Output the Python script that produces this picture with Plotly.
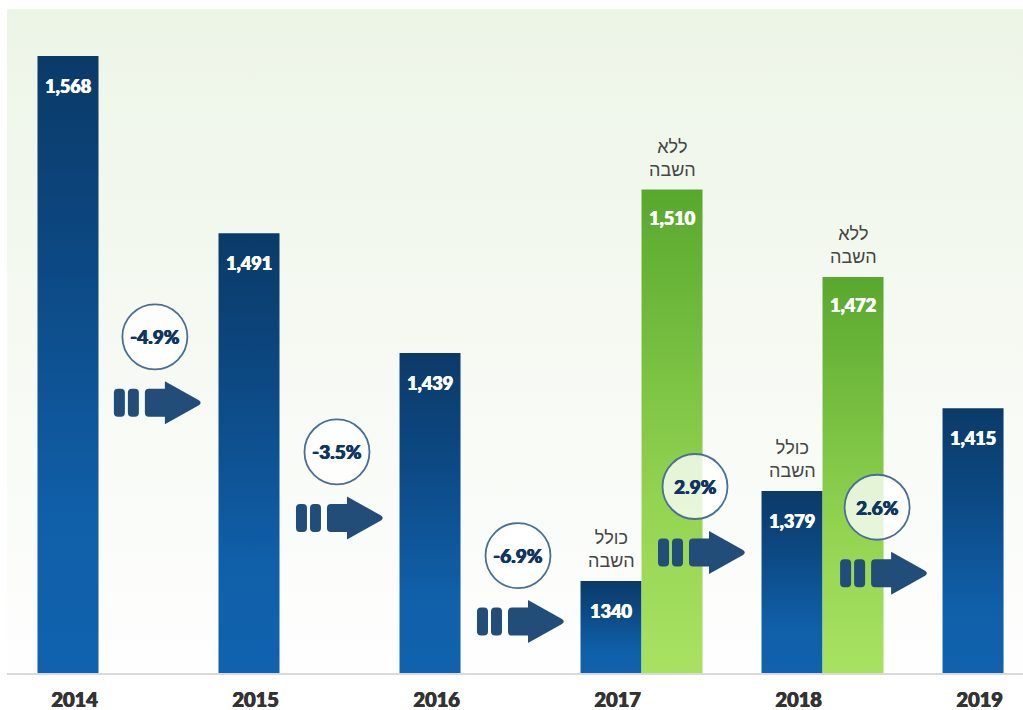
import plotly.graph_objects as go

# ---------------- data ----------------
years = ["2014", "2015", "2016", "2017", "2018", "2019"]
total_values = [1568, 1491, 1439, 1340, 1379, 1415]          # blue bars (כולל השבה)
total_labels = ["1,568", "1,491", "1,439", "1340", "1,379", "1,415"]
excl_years = ["2017", "2018"]                                 # green bars (ללא השבה)
excl_values = [1510, 1472]
excl_labels = ["1,510", "1,472"]
changes = ["-4.9%", "-3.5%", "-6.9%", "2.9%", "2.6%"]

# ---------------- layout constants ----------------
Y_MIN, Y_MAX = 1300, 1588.4
X_MIN, X_MAX = -0.337, 5.276
BAR_W = 0.337
BADGE_X_OFF = [0.48, 0.486, 0.486, 0.464, 0.47]
BADGE_Y = [1446, 1396, 1351, 1381, 1372]

BLUE_SCALE = [[0, "#1062ae"], [0.25, "#105fa9"], [0.7, "#0c4780"], [1, "#0b3a68"]]
GREEN_SCALE = [[0, "#a9e263"], [0.35, "#94d452"], [1, "#58a82e"]]
ARROW_COLOR = "#224d78"
BOLD_FONT = "Lato, Roboto, 'DejaVu Sans', sans-serif"
HEB_FONT = "'Liberation Sans', 'DejaVu Sans', sans-serif"


def heavy(color):
    return f"0.6px 0 0 {color}, -0.3px 0 0 {color}"


fig = go.Figure()

# background gradient
fig.add_trace(go.Scatter(
    x=[X_MIN, X_MAX, X_MAX, X_MIN, X_MIN],
    y=[Y_MIN, Y_MIN, Y_MAX, Y_MAX, Y_MIN],
    mode="lines", fill="toself", line=dict(width=0, color="rgba(0,0,0,0)"),
    fillgradient=dict(type="vertical", colorscale=[[0, "#fefefe"], [1, "#edf5e7"]]),
    hoverinfo="skip", showlegend=False))


def add_bar(xc, value, scale):
    x0, x1 = xc - BAR_W / 2, xc + BAR_W / 2
    fig.add_trace(go.Scatter(
        x=[x0, x1, x1, x0, x0], y=[Y_MIN, Y_MIN, value, value, Y_MIN],
        mode="lines", fill="toself", line=dict(width=0, color="rgba(0,0,0,0)"),
        fillgradient=dict(type="vertical", colorscale=scale),
        hoverinfo="skip", showlegend=False))


annotations = []
VAL_FONT = dict(family=BOLD_FONT, size=18, color="white", weight=900, shadow=heavy("white"))

for i, (v, lab) in enumerate(zip(total_values, total_labels)):
    add_bar(i, v, BLUE_SCALE)
    annotations.append(dict(x=i, y=v, text=lab, showarrow=False, yanchor="middle",
                            yshift=-30, font=VAL_FONT))

for yr, v, lab in zip(excl_years, excl_values, excl_labels):
    i = years.index(yr)
    xc = i + BAR_W
    add_bar(xc, v, GREEN_SCALE)
    annotations.append(dict(x=xc, y=v, text=lab, showarrow=False, yanchor="middle",
                            yshift=-28, font=VAL_FONT))
    annotations.append(dict(x=xc, y=v, text="ללא<br>השבה", showarrow=False,
                            yanchor="bottom", yshift=8,
                            font=dict(family=HEB_FONT, size=18, color="#454545")))
    annotations.append(dict(x=i, y=total_values[i], text="כולל<br>השבה", showarrow=False,
                            yanchor="bottom", yshift=8,
                            font=dict(family=HEB_FONT, size=18, color="#454545")))

ARROW_PATH = ("M -9,-14 L 7,-14 L 7,-21.5 L 41,-2.5 Q 44.5,0 41,2.5 L 7,21.5 L 7,14 "
              "L -9,14 Q -13,14 -13,10 L -13,-10 Q -13,-14 -9,-14 Z")


def pill(xa, xb):
    r = 4
    return (f"M {xa+r},-14 L {xb-r},-14 Q {xb},-14 {xb},-10 L {xb},10 Q {xb},14 {xb-r},14 "
            f"L {xa+r},14 Q {xa},14 {xa},10 L {xa},-10 Q {xa},-14 {xa+r},-14 Z")


def translate(p, dx, dy):
    out = []
    for t in p.split(" "):
        if "," in t:
            a, b = t.split(",")
            out.append(f"{float(a)+dx:.2f},{float(b)+dy:.2f}")
        else:
            out.append(t)
    return " ".join(out)


shapes = []
for k, txt in enumerate(changes):
    bx = k + BADGE_X_OFF[k]
    by = BADGE_Y[k]
    shapes.append(dict(type="circle", xref="x", yref="y", xsizemode="pixel", ysizemode="pixel",
                       xanchor=bx, yanchor=by, x0=-32.5, x1=32.5, y0=-32.5, y1=32.5,
                       fillcolor="rgba(255,255,255,0.78)", line=dict(color="#4a6f96", width=1.8)))
    annotations.append(dict(x=bx, y=by, text=txt, showarrow=False,
                            font=dict(family=BOLD_FONT, size=19, color="#0f3562", weight=900,
                                      shadow=heavy("#0f3562"))))
    dx = 3 if k < 3 else 7
    dy = -66
    for p in (pill(-44, -33), pill(-30, -19), ARROW_PATH):
        shapes.append(dict(type="path", xref="x", yref="y", xsizemode="pixel",
                           ysizemode="pixel", xanchor=bx, yanchor=by, opacity=1,
                           path=translate(p, dx, dy), fillcolor=ARROW_COLOR,
                           line=dict(width=0)))

fig.update_layout(
    width=1023, height=710,
    margin=dict(l=7, r=0, t=9, b=37, autoexpand=False),
    paper_bgcolor="white", plot_bgcolor="white",
    shapes=shapes, annotations=annotations,
    showlegend=False,
    xaxis=dict(range=[X_MIN, X_MAX], showgrid=False, zeroline=False, automargin=False,
               showline=True, linecolor="#d9d9d9", linewidth=2,
               tickvals=[i + 0.036 for i in range(len(years))], ticktext=years,
               ticks="outside", ticklen=8, tickcolor="rgba(0,0,0,0)",
               tickfont=dict(family=BOLD_FONT, size=20, color="#333333", weight=900,
                             shadow=heavy("#333333")),
               fixedrange=True),
    yaxis=dict(range=[Y_MIN, Y_MAX], visible=False, showgrid=False, zeroline=False,
               automargin=False, fixedrange=True),
)

fig.write_html("out.html", config={"displayModeBar": False},
               post_script="document.body.style.margin='0';")
